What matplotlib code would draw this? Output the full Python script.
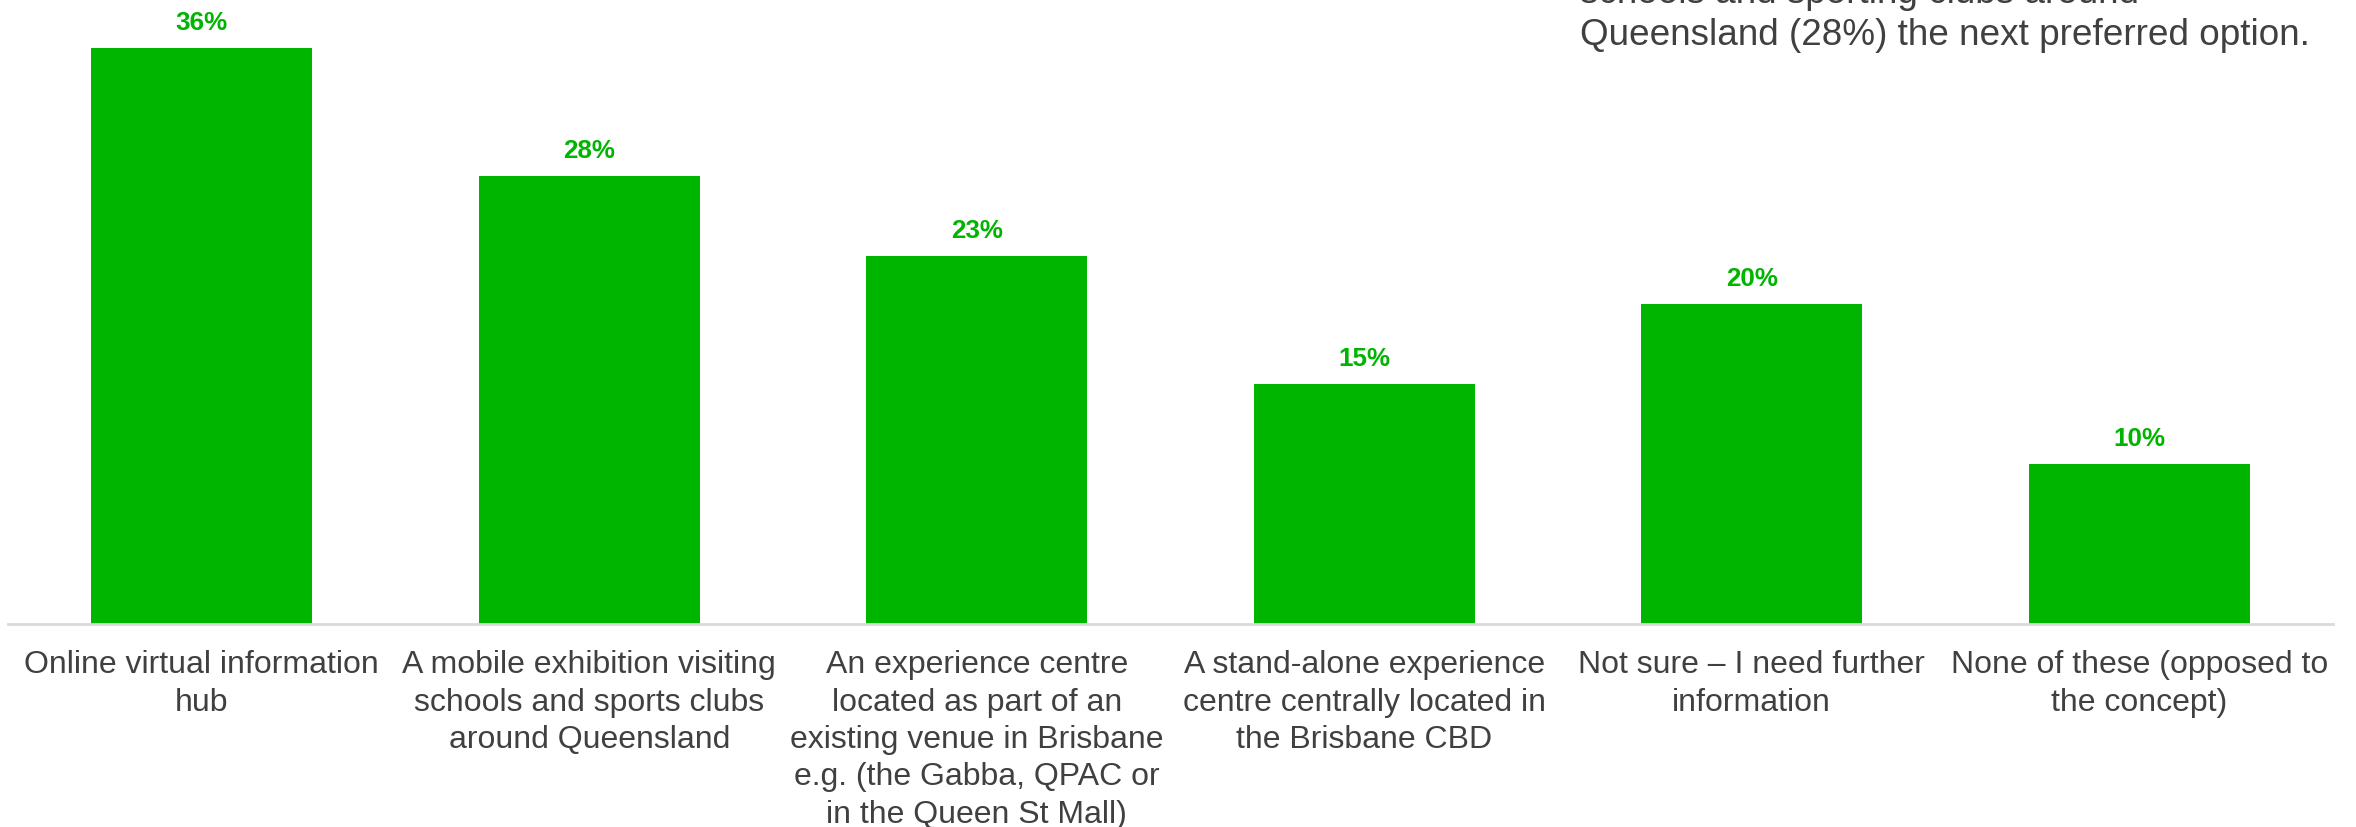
import matplotlib
matplotlib.use("Agg")
import matplotlib.pyplot as plt
import numpy as np

plt.rcParams["font.family"] = ["Liberation Sans", "DejaVu Sans"]

# Preferred format for the experience centre (% of respondents)
categories = [
    "Online virtual information\nhub",
    "A mobile exhibition visiting\nschools and sports clubs\naround Queensland",
    "An experience centre\nlocated as part of an\nexisting venue in Brisbane\ne.g. (the Gabba, QPAC or\nin the Queen St Mall)",
    "A stand-alone experience\ncentre centrally located in\nthe Brisbane CBD",
    "Not sure \u2013 I need further\ninformation",
    "None of these (opposed to\nthe concept)",
]
values = [36, 28, 23, 15, 20, 10]

summary_lines = [
    "schools and sporting clubs around",
    "Queensland (28%) the next preferred option.",
]

GREEN = "#00b500"
TEXT = "#404040"

W, H = 2356, 827
fig = plt.figure(figsize=(W / 100, H / 100), dpi=100)
ax = fig.add_axes([8 / W, (H - 624) / H, (2333 - 8) / W, 624 / H])

x = np.arange(len(categories))
bars = ax.bar(x, values, width=0.57, color=GREEN, zorder=2)

for rect, v in zip(bars, values):
    ax.annotate(f"{v}%", (rect.get_x() + rect.get_width() / 2, v),
                xytext=(0, 13), textcoords="offset points",
                ha="center", va="baseline", fontsize=18.7, fontweight="bold",
                color=GREEN)

ax.set_xlim(-0.5, len(categories) - 0.5)
ax.set_ylim(0, 39)
ax.set_yticks([])
ax.set_xticks(x)
ax.set_xticklabels(categories, fontsize=23, color=TEXT, linespacing=1.32)
ax.tick_params(axis="x", length=0, pad=19)

for side in ["top", "left", "right"]:
    ax.spines[side].set_visible(False)
ax.spines["bottom"].set_color("#d9d9d9")
ax.spines["bottom"].set_linewidth(2)

# summary note, top right (first line runs off the top edge)
fig.text(1580 / W, 1 - 3 / H, summary_lines[0], fontsize=26.6, color=TEXT,
         ha="left", va="baseline")
fig.text(1580 / W, 1 - 45 / H, summary_lines[1], fontsize=26.6, color=TEXT,
         ha="left", va="baseline")

fig.savefig("out.png", dpi=100)
